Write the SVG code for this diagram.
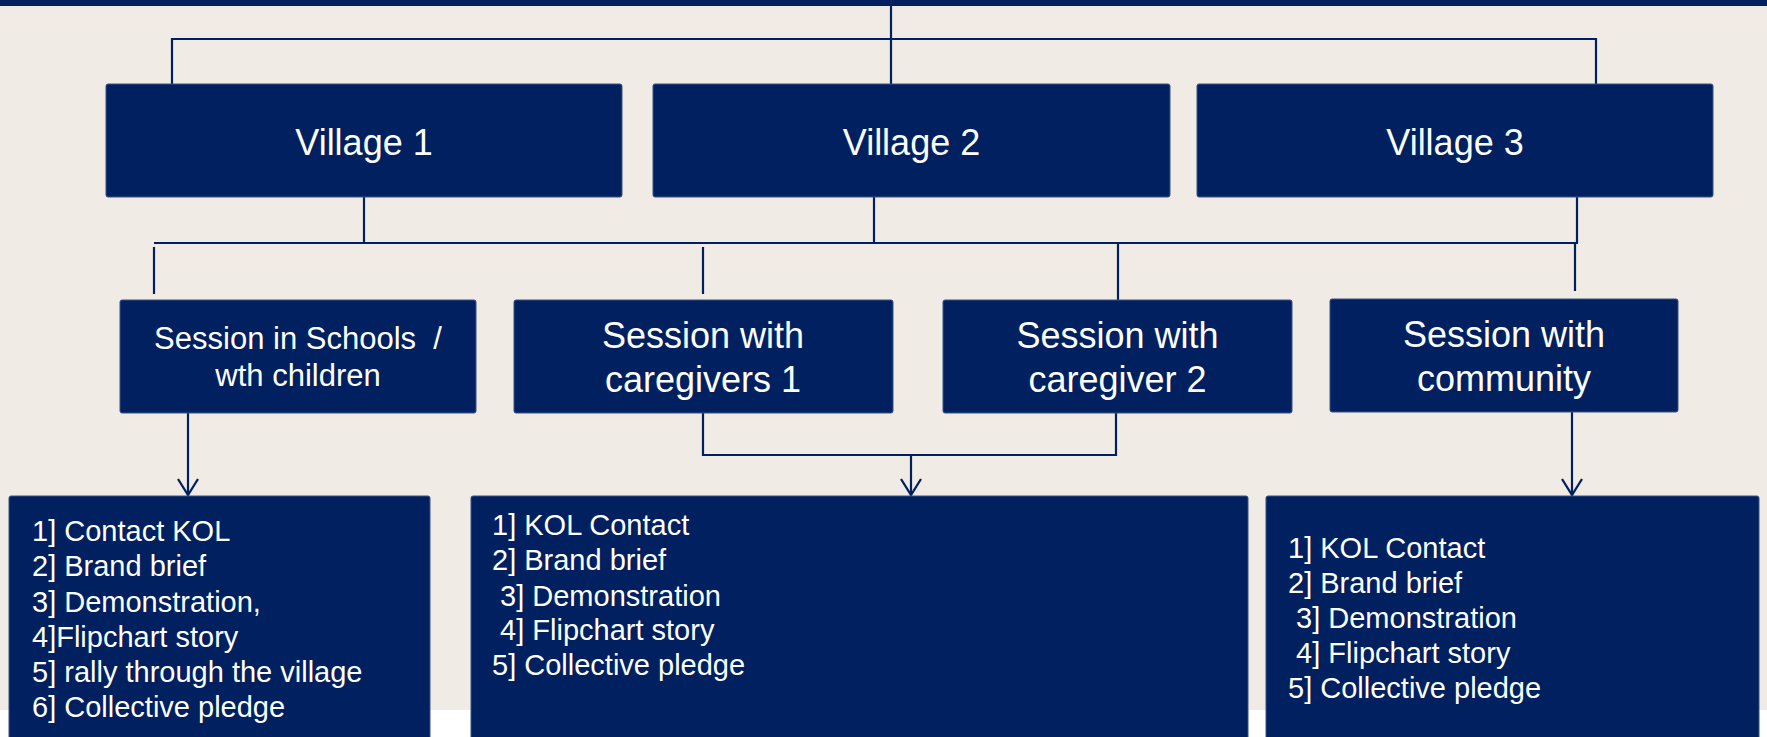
<svg xmlns="http://www.w3.org/2000/svg" width="1767" height="737" viewBox="0 0 1767 737">
  <defs>
    <style>
      .box { fill: #002060; stroke: #3a5283; stroke-width: 1; }
      .conn { stroke: #002060; stroke-width: 2.2; fill: none; }
      .t { font-family: "Liberation Sans", Arial, sans-serif; fill: #ffffff; }
      .v { font-size: 36px; text-anchor: middle; }
      .s { font-size: 36px; text-anchor: middle; }
      .s2 { font-size: 31px; text-anchor: middle; }
      .l { font-size: 29px; }
    </style>
    <marker id="arr" viewBox="0 0 18 22" refX="17" refY="11" markerWidth="18" markerHeight="22" markerUnits="userSpaceOnUse" orient="auto">
      <path d="M1,1 L17,11 L1,21" fill="none" stroke="#002060" stroke-width="2.3"/>
    </marker>
  </defs>

  <rect x="0" y="0" width="1767" height="710" fill="#f0ebe4"/>
  <rect x="0" y="710" width="1767" height="27" fill="#ffffff"/>
  <rect x="0" y="0" width="1767" height="6" fill="#002060"/>

  <g id="connectors">
    <path class="conn" d="M891,4 V84"/>
    <path class="conn" d="M172,84 V39 H1596 V84"/>
    <path class="conn" d="M364,197 V243"/>
    <path class="conn" d="M874,197 V243"/>
    <path class="conn" d="M1577,197 V243"/>
    <path class="conn" d="M154,243 H1578"/>
    <path class="conn" d="M154,247 V294" stroke-width="1.6"/>
    <path class="conn" d="M703,247 V294" stroke-width="1.6"/>
    <path class="conn" d="M1118,243 V300" stroke-width="1.6"/>
    <path class="conn" d="M1575,243 V291" stroke-width="1.6"/>
    <path class="conn" d="M703,413 V455 H1116 V413"/>
    <path class="conn" d="M911,455 V495" marker-end="url(#arr)"/>
    <path class="conn" d="M188,413 V495" marker-end="url(#arr)"/>
    <path class="conn" d="M1572,412 V495" marker-end="url(#arr)"/>
  </g>

  <g id="village1">
    <rect class="box" x="106" y="84" width="516" height="113" rx="2"/>
    <text class="t v" x="364" y="155">Village 1</text>
  </g>
  <g id="village2">
    <rect class="box" x="653" y="84" width="517" height="113" rx="2"/>
    <text class="t v" x="911.5" y="155">Village 2</text>
  </g>
  <g id="village3">
    <rect class="box" x="1197" y="84" width="516" height="113" rx="2"/>
    <text class="t v" x="1455" y="155">Village 3</text>
  </g>

  <g id="session-schools">
    <rect class="box" x="120" y="300" width="356" height="113" rx="2"/>
    <text class="t s2" x="298" y="349" xml:space="preserve">Session in Schools  /</text>
    <text class="t s2" x="298" y="386">wth children</text>
  </g>
  <g id="session-caregivers1">
    <rect class="box" x="514" y="300" width="379" height="113" rx="2"/>
    <text class="t s" x="703" y="348">Session with</text>
    <text class="t s" x="703" y="392">caregivers 1</text>
  </g>
  <g id="session-caregiver2">
    <rect class="box" x="943" y="300" width="349" height="113" rx="2"/>
    <text class="t s" x="1117.5" y="348">Session with</text>
    <text class="t s" x="1117.5" y="392">caregiver 2</text>
  </g>
  <g id="session-community">
    <rect class="box" x="1330" y="299" width="348" height="113" rx="2"/>
    <text class="t s" x="1504" y="347">Session with</text>
    <text class="t s" x="1504" y="391">community</text>
  </g>

  <g id="steps-schools">
    <rect class="box" x="9" y="496" width="421" height="250" rx="2"/>
    <text class="t l" x="32" y="541">1] Contact KOL</text>
    <text class="t l" x="32" y="576">2] Brand brief</text>
    <text class="t l" x="32" y="612">3] Demonstration,</text>
    <text class="t l" x="32" y="647">4]Flipchart story</text>
    <text class="t l" x="32" y="682">5] rally through the village</text>
    <text class="t l" x="32" y="717">6] Collective pledge</text>
  </g>
  <g id="steps-caregivers">
    <rect class="box" x="471" y="496" width="777" height="250" rx="2"/>
    <text class="t l" x="492" y="535">1] KOL Contact</text>
    <text class="t l" x="492" y="570">2] Brand brief</text>
    <text class="t l" x="492" y="606" xml:space="preserve"> 3] Demonstration</text>
    <text class="t l" x="492" y="640" xml:space="preserve"> 4] Flipchart story</text>
    <text class="t l" x="492" y="675">5] Collective pledge</text>
  </g>
  <g id="steps-community">
    <rect class="box" x="1266" y="496" width="493" height="250" rx="2"/>
    <text class="t l" x="1288" y="558">1] KOL Contact</text>
    <text class="t l" x="1288" y="593">2] Brand brief</text>
    <text class="t l" x="1288" y="628" xml:space="preserve"> 3] Demonstration</text>
    <text class="t l" x="1288" y="663" xml:space="preserve"> 4] Flipchart story</text>
    <text class="t l" x="1288" y="698">5] Collective pledge</text>
  </g>
</svg>
